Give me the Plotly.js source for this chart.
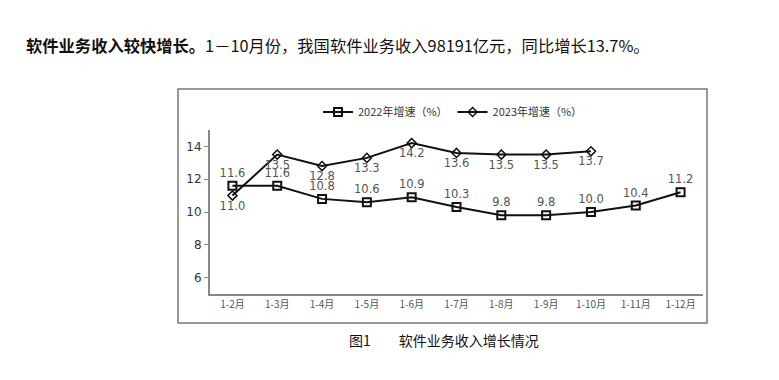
<!DOCTYPE html>
<html>
<head>
<meta charset="utf-8">
<script src="https://cdn.plot.ly/plotly-3.0.1.min.js"></script>
<style>html,body{margin:0;padding:0;background:#fff;}#chart{width:779px;height:380px;}</style>
</head>
<body>
<div id="chart"></div>
<script>
const categories = ["1-2月","1-3月","1-4月","1-5月","1-6月","1-7月","1-8月","1-9月","1-10月","1-11月","1-12月"];
const growth2022 = [11.6, 11.6, 10.8, 10.6, 10.9, 10.3, 9.8, 9.8, 10.0, 10.4, 11.2];
const growth2023 = [11.0, 13.5, 12.8, 13.3, 14.2, 13.6, 13.5, 13.5, 13.7];
const seriesNames = ["2022年增速（%）", "2023年增速（%）"];
const headerBold = "软件业务收入较快增长。";
const headerRest = "1－10月份，我国软件业务收入98191亿元，同比增长13.7%。";
const caption = "图1　　软件业务收入增长情况";

const cjk = '"Noto Sans CJK SC", "DejaVu Sans", sans-serif';
const labelFont = {family: '"DejaVu Sans", sans-serif', size: 11.5, color: '#555'};

const traces = [
  {
    x: categories, y: growth2022, name: seriesNames[0], type: 'scatter',
    mode: 'lines+markers+text',
    text: growth2022.map(v => v.toFixed(1)), textposition: 'top center', textfont: labelFont,
    line: {color: '#111', width: 2},
    marker: {symbol: 'square-open', size: 8, color: '#111', line: {width: 2, color: '#111'}},
    cliponaxis: false
  },
  {
    x: categories.slice(0, growth2023.length), y: growth2023, name: seriesNames[1], type: 'scatter',
    mode: 'lines+markers+text',
    text: growth2023.map(v => v.toFixed(1)), textposition: 'bottom center', textfont: labelFont,
    line: {color: '#111', width: 2},
    marker: {symbol: 'diamond-open', size: 7, color: '#111', line: {width: 1.5, color: '#111'}},
    cliponaxis: false
  }
];

const W = 493, H = 164, L = 210, T = 130;
const px = x => (x - L) / W;
const py = y => (T + H - y) / H;

const layout = {
  width: 779, height: 380,
  margin: {l: 210, r: 76, t: 130, b: 86},
  paper_bgcolor: '#fff', plot_bgcolor: '#fff',
  showlegend: true,
  legend: {orientation: 'h', x: px(318), y: py(112), xanchor: 'left', yanchor: 'middle',
    font: {family: cjk, size: 11, color: '#333'}, bgcolor: 'rgba(0,0,0,0)', itemwidth: 30},
  xaxis: {
    type: 'category', range: [-0.5, 10.5], showgrid: false, zeroline: false,
    showline: true, linecolor: '#888', linewidth: 2, ticks: '',
    tickfont: {family: cjk, size: 10, color: '#555'}
  },
  yaxis: {
    range: [5, 15], tickvals: [6, 8, 10, 12, 14], showgrid: false, zeroline: false,
    showline: true, linecolor: '#888', linewidth: 2, ticks: 'outside', ticklen: 4, tickcolor: '#888',
    tickfont: {family: '"DejaVu Sans", sans-serif', size: 12, color: '#333'}
  },
  shapes: [
    {type: 'rect', xref: 'paper', yref: 'paper', x0: px(178), x1: px(707), y0: py(323), y1: py(89),
     line: {color: '#777', width: 1.5}, fillcolor: 'rgba(0,0,0,0)', layer: 'below'}
  ],
  annotations: [
    {xref: 'paper', yref: 'paper', x: px(24), y: py(45), xanchor: 'left', yanchor: 'middle', showarrow: false,
     text: '<b>' + headerBold + '</b>' + headerRest, font: {family: cjk, size: 16.3, color: '#111'}},
    {xref: 'paper', yref: 'paper', x: px(444), y: py(340), xanchor: 'center', yanchor: 'middle', showarrow: false,
     text: caption, font: {family: cjk, size: 14, color: '#111'}}
  ]
};

Plotly.newPlot('chart', traces, layout, {displayModeBar: false, staticPlot: true});
</script>
</body>
</html>
